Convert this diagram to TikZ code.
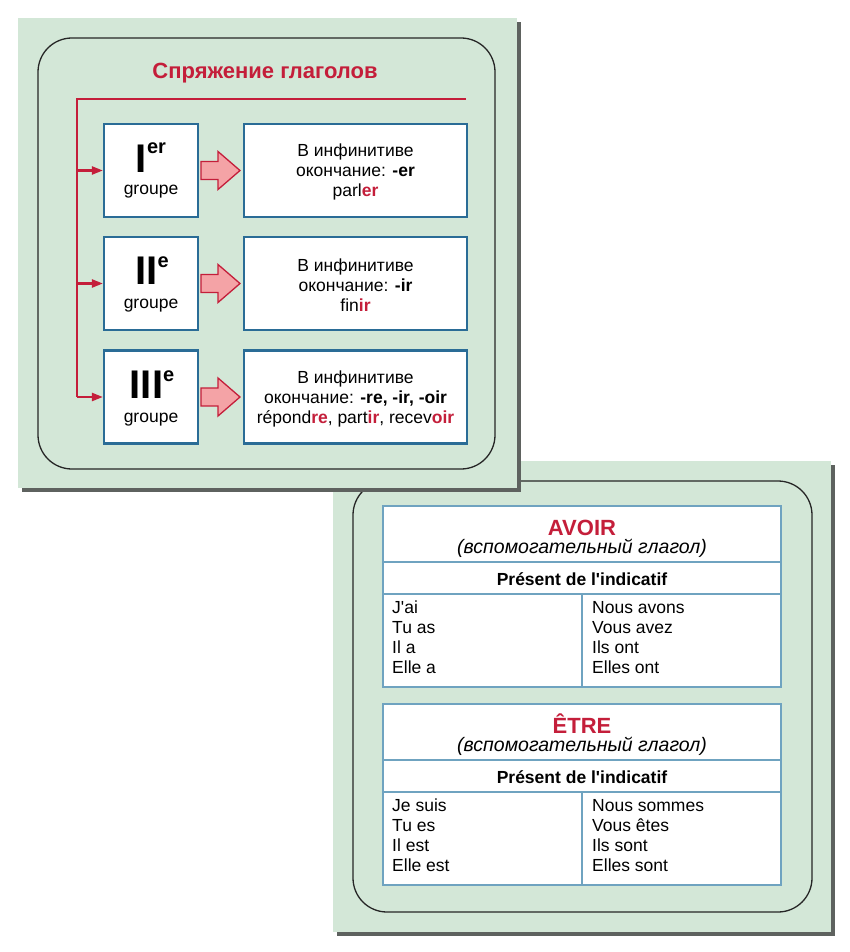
\documentclass[tikz,border=0pt]{standalone}
\usepackage{fontspec}
\setmainfont{Liberation Sans}
\usetikzlibrary{arrows.meta}
\definecolor{panelgreen}{HTML}{D3E7D7}
\definecolor{boxblue}{HTML}{2A6C96}
\definecolor{tblblue}{HTML}{6FA3C0}
\definecolor{redc}{HTML}{C41E3A}
\definecolor{pinkc}{HTML}{F4A3A6}
\definecolor{shadowc}{HTML}{5E625F}
\begin{document}
\begin{tikzpicture}[x=1pt,y=-1pt,
  panel/.style={fill=panelgreen},
  shadowbox/.style={fill=shadowc},
  frame/.style={draw=black!85, line width=1.3pt, rounded corners=34pt},
  grpbox/.style={draw=boxblue, line width=2.2pt, fill=white, minimum width=94pt, minimum height=93pt, inner sep=0pt},
  rulebox/.style={draw=boxblue, line width=2.2pt, fill=white, minimum width=223pt, minimum height=93pt, inner sep=0pt},
  bodytext/.style={font=\fontsize{17.5}{20}\selectfont, align=center, inner sep=0pt},
  numeral/.style={font=\fontsize{40}{40}\selectfont\bfseries, anchor=base, inner sep=0pt},
  grptext/.style={font=\fontsize{17.5}{20}\selectfont, anchor=base, inner sep=0pt},
  redline/.style={draw=redc, line width=2.3pt},
  redarrow/.style={draw=redc, line width=2.3pt, -{Triangle[length=11pt,width=8pt]}},
  tbl/.style={draw=tblblue, line width=1.3pt},
  verb/.style={font=\fontsize{22}{24}\selectfont\bfseries, text=redc, anchor=base, inner sep=0pt},
  aux/.style={font=\fontsize{19.5}{20}\selectfont\itshape, anchor=base, inner sep=0pt},
  tense/.style={font=\fontsize{17.5}{20}\selectfont\bfseries, anchor=base, inner sep=0pt},
  forms/.style={font=\fontsize{17.5}{20}\selectfont, align=left, anchor=north west, inner sep=0pt},
  barrow/.pic={\draw[fill=pinkc, draw=redc, line width=1.3pt]
     (0,-9) -- (17,-9) -- (17,-19) -- (39,0) -- (17,19) -- (17,9) -- (0,9) -- cycle;}
]
\useasboundingbox (0,0) rectangle (850,952);
\fill[white] (0,0) rectangle (850,952);

% ---------- panel 2 (below) ----------
\fill[shadowbox] (337,465) rectangle (835,936);
\fill[panel] (333,461) rectangle (831,932);
\draw[frame] (353,481) rectangle (812,912);

% table AVOIR
\fill[white] (383,506) rectangle (781,687);
\draw[tbl] (383,506) rectangle (781,687);
\draw[tbl] (383,562) -- (781,562);
\draw[tbl] (383,594) -- (781,594);
\draw[tbl] (582,594) -- (582,687);
\node[verb] (avoir) at (582,535) {AVOIR};
\node[aux] (aux1) at (582,553) {(вспомогательный глагол)};
\node[tense] (pres1) at (582,585) {Présent de l\textquotesingle indicatif};
\node[forms] (a1) at (392,601) {J\textquotesingle ai\\Tu as\\Il a\\Elle a};
\node[forms] (a2) at (592,601) {Nous avons\\Vous avez\\Ils ont\\Elles ont};

% table ETRE
\fill[white] (383,704) rectangle (781,885);
\draw[tbl] (383,704) rectangle (781,885);
\draw[tbl] (383,760) -- (781,760);
\draw[tbl] (383,792) -- (781,792);
\draw[tbl] (582,792) -- (582,885);
\node[verb] (etre) at (582,733) {ÊTRE};
\node[aux] (aux2) at (582,751) {(вспомогательный глагол)};
\node[tense] (pres2) at (582,783) {Présent de l\textquotesingle indicatif};
\node[forms] (s1) at (392,799) {Je suis\\Tu es\\Il est\\Elle est};
\node[forms] (s2) at (592,799) {Nous sommes\\Vous êtes\\Ils sont\\Elles sont};

% ---------- panel 1 (on top) ----------
\fill[shadowbox] (22,22) rectangle (521,492);
\fill[panel] (18,18) rectangle (517,488);
\draw[frame] (38,38) rectangle (495,469);

\node[font=\fontsize{22}{24}\selectfont\bfseries, text=redc] (title) at (265,73) {Спряжение глаголов};

\node[grpbox] (g1) at (151,170.5) {};
\node[grpbox] (g2) at (151,283.5) {};
\node[grpbox] (g3) at (151,397) {};

\node[numeral] (n1) at (151,172) {I\raisebox{18pt}{\fontsize{20}{20}\selectfont er}};
\node[numeral] (n2) at (152,284) {II\raisebox{17pt}{\fontsize{20}{20}\selectfont e}};
\node[numeral] (n3) at (152,398) {III\raisebox{17pt}{\fontsize{20}{20}\selectfont e}};
\node[grptext] (t1) at (151,194) {groupe};
\node[grptext] (t2) at (151,308) {groupe};
\node[grptext] (t3) at (151,422) {groupe};

\node[rulebox] (r1) at (355.5,170.5) {};
\node[rulebox] (r2) at (355.5,283.5) {};
\node[rulebox] (r3) at (355.5,397) {};

\node[bodytext] (e1) at (355.5,172) {В инфинитиве\\окончание: \textbf{-er}\\parl\textcolor{redc}{\textbf{er}}};
\node[bodytext] (e2) at (355.5,285) {В инфинитиве\\окончание: \textbf{-ir}\\fin\textcolor{redc}{\textbf{ir}}};
\node[bodytext] (e3) at (355.5,398.5) {В инфинитиве\\окончание: \textbf{-re, -ir, -oir}\\répond\textcolor{redc}{\textbf{re}}, part\textcolor{redc}{\textbf{ir}}, recev\textcolor{redc}{\textbf{oir}}};

\pic at (201,170.5) {barrow};
\pic at (201,283.5) {barrow};
\pic at (201,397) {barrow};

\coordinate (rend) at (466,99);
\coordinate (rcorner) at (77,99);
\coordinate (b1) at (77,170.5);
\coordinate (b2) at (77,283.5);
\coordinate (b3) at (77,397);
\draw[redline] (rend) -- (rcorner) -- (b3);
\draw[redarrow] (b1) -- (g1.west);
\draw[redarrow] (b2) -- (g2.west);
\draw[redarrow] (b3) -- (g3.west);
\end{tikzpicture}
\end{document}
